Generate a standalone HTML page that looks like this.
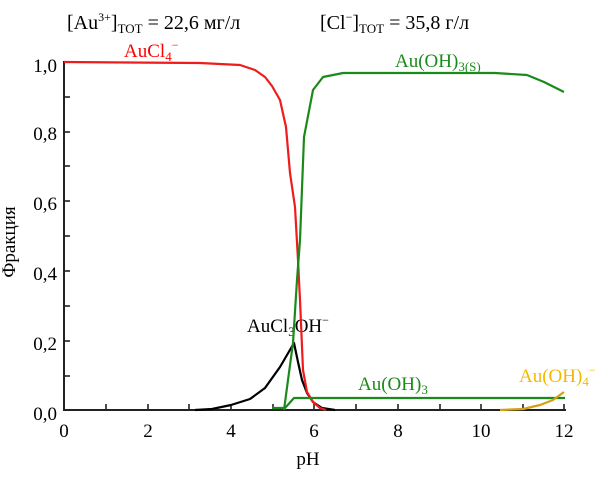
<!DOCTYPE html>
<html><head><meta charset="utf-8"><style>
body{margin:0;background:#fff;}
svg text{font-family:"Liberation Serif",serif;}
</style></head><body>
<svg width="611" height="475" viewBox="0 0 611 475" xmlns="http://www.w3.org/2000/svg">
<g stroke="#222" stroke-width="2" fill="none">
<line x1="64" y1="61" x2="64" y2="411"/>
<line x1="63" y1="410" x2="566" y2="410"/>
<g stroke-width="1.6">
<line x1="106" y1="410" x2="106" y2="404"/><line x1="148" y1="410" x2="148" y2="404"/>
<line x1="189" y1="410" x2="189" y2="404"/><line x1="231" y1="410" x2="231" y2="404"/>
<line x1="273" y1="410" x2="273" y2="404"/><line x1="314" y1="410" x2="314" y2="404"/>
<line x1="356" y1="410" x2="356" y2="404"/><line x1="398" y1="410" x2="398" y2="404"/>
<line x1="440" y1="410" x2="440" y2="404"/><line x1="481" y1="410" x2="481" y2="404"/>
<line x1="523" y1="410" x2="523" y2="404"/><line x1="564" y1="410" x2="564" y2="404"/>
<line x1="64" y1="97" x2="70" y2="97"/><line x1="64" y1="132" x2="70" y2="132"/>
<line x1="64" y1="166" x2="70" y2="166"/><line x1="64" y1="201" x2="70" y2="201"/>
<line x1="64" y1="236" x2="70" y2="236"/><line x1="64" y1="271" x2="70" y2="271"/>
<line x1="64" y1="306" x2="70" y2="306"/><line x1="64" y1="341" x2="70" y2="341"/>
<line x1="64" y1="376" x2="70" y2="376"/>
</g>
</g>
<g font-size="19" fill="#000">
<text x="57" y="72" text-anchor="end">1,0</text>
<text x="57" y="140" text-anchor="end">0,8</text>
<text x="57" y="210" text-anchor="end">0,6</text>
<text x="57" y="280" text-anchor="end">0,4</text>
<text x="57" y="350" text-anchor="end">0,2</text>
<text x="57" y="420" text-anchor="end">0,0</text>
<g text-anchor="middle">
<text x="64" y="437">0</text><text x="148" y="437">2</text><text x="231" y="437">4</text>
<text x="314" y="437">6</text><text x="398" y="437">8</text><text x="481" y="437">10</text><text x="564" y="437">12</text>
<text x="308" y="465">pH</text>
</g>
<text transform="translate(15,242) rotate(-90)" text-anchor="middle">Фракция</text>
<text x="67" y="29" font-size="20">[Au<tspan font-size="12" dy="-8">3+</tspan><tspan dy="8">]</tspan><tspan font-size="13" dy="4">TOT</tspan><tspan dy="-4"> = 22,6 мг/л</tspan></text>
<text x="320" y="29" font-size="20">[Cl<tspan font-size="12" dy="-8">−</tspan><tspan dy="8">]</tspan><tspan font-size="13" dy="4">TOT</tspan><tspan dy="-4"> = 35,8 г/л</tspan></text>
<text x="247" y="332">AuCl<tspan font-size="13" dy="4">3</tspan><tspan dy="-4">OH</tspan><tspan font-size="12" dy="-8">−</tspan></text>
</g>
<text x="124" y="57" font-size="19" fill="#f00">AuCl<tspan font-size="13" dy="4">4</tspan><tspan font-size="12" dy="-12">−</tspan></text>
<text x="395" y="67" font-size="19" fill="#1a8a1a">Au(OH)<tspan font-size="13" dy="4">3(S)</tspan></text>
<text x="358" y="390" font-size="19" fill="#1a8a1a">Au(OH)<tspan font-size="13" dy="4">3</tspan></text>
<text x="519" y="382" font-size="19" fill="#f5b800">Au(OH)<tspan font-size="13" dy="4">4</tspan><tspan font-size="12" dy="-12">−</tspan></text>
<g fill="none" stroke-width="2.2" stroke-linejoin="round">
<polyline stroke="#000" points="195,410 212,409 231,405 250,399 265,388 280,367 294,343 298,362 302,380 307,393 313,402 322,408 335,410"/>
<polyline stroke="#ee1c1c" points="64,62 200,63 220,64 240,65 255,70 265,77 272,86 280,100 286,127 290,173 295,207 298,260 300,300 303,370 307,392 313,402 320,408 326,410"/>
<polyline stroke="#1a8a1a" points="284,410 288,380 293,343 297,280 300,240 304,137 313,90 323,77 343,73 495,73 527,75 544,82 564,92"/>
<polyline stroke="#1a8a1a" points="272,408 285,408 294,398 565,398"/>
<polyline stroke="#d4a017" points="500,410 523,409 540,405 553,400 564,392"/>
</g>
</svg>
</body></html>
